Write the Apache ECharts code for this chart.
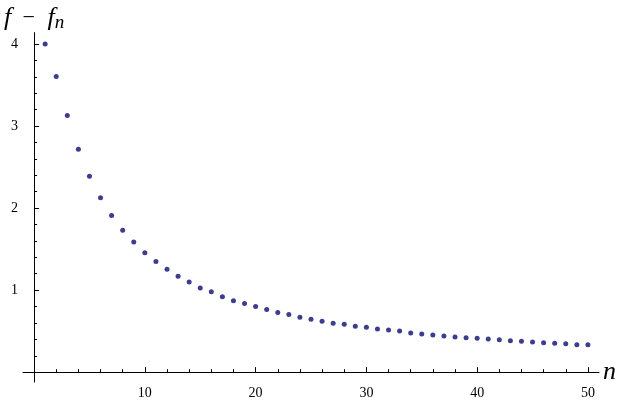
<!DOCTYPE html>
<html>
<head>
<meta charset="utf-8">
<title>f - f_n</title>
<script src="https://cdn.jsdelivr.net/npm/echarts@6/dist/echarts.min.js"></script>
<style>
  html, body { margin: 0; padding: 0; background: #fff; }
  #chart { width: 621px; height: 400px; }
</style>
</head>
<body>
<div id="chart"></div>
<script>
// n = 1..50
const nValues = Array.from({ length: 50 }, (_, i) => i + 1)
const diffValues = [
  4.00, 3.606, 3.128, 2.718, 2.388, 2.125, 1.910, 1.731, 1.588, 1.457,
  1.349, 1.254, 1.170, 1.099, 1.027, 0.979, 0.919, 0.872, 0.836, 0.800,
  0.764, 0.728, 0.704, 0.669, 0.645, 0.621, 0.597, 0.585, 0.561, 0.549,
  0.525, 0.513, 0.501, 0.478, 0.466, 0.454, 0.442, 0.430, 0.418, 0.412,
  0.405, 0.394, 0.382, 0.376, 0.368, 0.358, 0.352, 0.346, 0.334, 0.334
]
const xMajorTicks = [10, 20, 30, 40, 50]
const xMinorTicks = [2, 4, 6, 8, 12, 14, 16, 18, 22, 24, 26, 28, 32, 34, 36, 38, 42, 44, 46, 48]
const yMajorTicks = [1, 2, 3, 4]
const yMinorTicks = [0.2, 0.4, 0.6, 0.8, 1.2, 1.4, 1.6, 1.8, 2.2, 2.4, 2.6, 2.8, 3.2, 3.4, 3.6, 3.8]

const serif = '"Liberation Serif", "DejaVu Serif", serif'
const xRange = { min: -1, max: 51 }
const yRange = { min: -0.12, max: 4.14 }

const chart = echarts.init(document.getElementById('chart'), null, { renderer: 'canvas' })

const axisLine = { show: true, onZero: true, onZeroAxisIndex: 0, lineStyle: { color: '#000', width: 1 } }
const tickLine = { color: '#000', width: 1 }

const option = {
  animation: false,
  backgroundColor: '#fff',
  grid: { left: 23, right: 22, top: 32.6, bottom: 10.65, containLabel: false },
  xAxis: [
    {
      type: 'value',
      position: 'bottom',
      min: xRange.min,
      max: xRange.max,
      axisLine: axisLine,
      axisTick: { show: true, inside: true, length: 5, customValues: xMajorTicks, lineStyle: tickLine },
      axisLabel: {
        show: true,
        customValues: xMajorTicks,
        margin: 4,
        color: '#000',
        fontFamily: serif,
        fontSize: 14
      },
      splitLine: { show: false },
      name: 'n',
      nameLocation: 'end',
      nameGap: 4,
      nameTextStyle: {
        fontFamily: serif,
        fontStyle: 'italic',
        fontSize: 26,
        color: '#000',
        padding: [0, 0, 14, 0]
      }
    },
    {
      // minor ticks only
      type: 'value',
      position: 'bottom',
      min: xRange.min,
      max: xRange.max,
      axisLine: { show: false, onZero: true, onZeroAxisIndex: 0 },
      axisTick: { show: true, inside: true, length: 3, customValues: xMinorTicks, lineStyle: tickLine },
      axisLabel: { show: false },
      splitLine: { show: false }
    }
  ],
  yAxis: [
    {
      type: 'value',
      position: 'left',
      min: yRange.min,
      max: yRange.max,
      axisLine: axisLine,
      axisTick: { show: true, inside: true, length: 5, customValues: yMajorTicks, lineStyle: tickLine },
      axisLabel: {
        show: true,
        customValues: yMajorTicks,
        margin: 5,
        color: '#000',
        fontFamily: serif,
        fontSize: 14
      },
      splitLine: { show: false },
      name: '{i|f}{m| − }{i|f}{s|n}',
      nameLocation: 'end',
      nameGap: 0,
      nameTextStyle: {
        rich: {
          i: { fontFamily: serif, fontStyle: 'italic', fontSize: 26, color: '#000' },
          m: { fontFamily: serif, fontSize: 22, color: '#000', padding: [0, 7, 0, 6] },
          s: { fontFamily: serif, fontStyle: 'italic', fontSize: 19, color: '#000', padding: [10, 0, 0, 0] }
        }
      }
    },
    {
      type: 'value',
      position: 'left',
      min: yRange.min,
      max: yRange.max,
      axisLine: { show: false, onZero: true, onZeroAxisIndex: 0 },
      axisTick: { show: true, inside: true, length: 3, customValues: yMinorTicks, lineStyle: tickLine },
      axisLabel: { show: false },
      splitLine: { show: false }
    }
  ],
  series: [
    {
      type: 'scatter',
      xAxisIndex: 0,
      yAxisIndex: 0,
      symbol: 'circle',
      symbolSize: 5,
      itemStyle: { color: '#3d3d8f', opacity: 1 },
      data: nValues.map((n, i) => [n, diffValues[i]])
    }
  ]
}

chart.setOption(option)
</script>
</body>
</html>
